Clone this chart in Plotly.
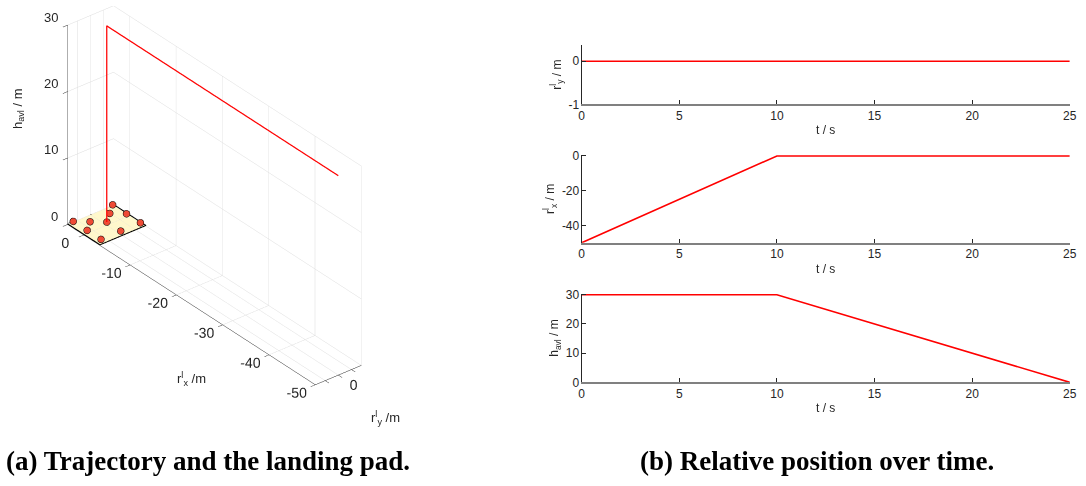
import plotly.graph_objects as go

# ---------------- data ----------------
t = [0, 10, 25]
r_x = [-50, 0, 0]
r_y = [0, 0, 0]
h_avl = [30, 30, 0]

pad_x = [-3.5, 3.5]
pad_y = [-3.5, 3.5]
pad_z = [[0, 0], [0, 0]]
pad_edge_x = [3.5, 3.5, -3.5, -3.5, 3.5]
pad_edge_y = [3.5, -3.5, -3.5, 3.5, 3.5]
pad_edge_z = [0.1, 0.1, 0.1, 0.1, 0.1]
light_x = [3, 1.5, 0, 1.5, 3, 0, -3, -3, -3, 0]
light_y = [3, 1.5, 0, -1.5, -3, -3, -3, 0, 3, 3]
light_z = [0.5] * 10

x3_ticks = [-50, -40, -30, -20, -10, 0]
x3_text = ["-50", "-40", "-30", "-20", "-10", "0"]
y3_ticks = [-2, 0, 2]
y3_text = ["", "0", ""]
z3_ticks = [0, 10, 20, 30]
z3_text = ["0", "10", "20", "30"]
t_ticks = [0, 5, 10, 15, 20, 25]
t_text = ["0", "5", "10", "15", "20", "25"]
ry_ticks, ry_text = [-1, 0], ["-1", "0"]
rx_ticks, rx_text = [-40, -20, 0], ["-40", "-20", "0"]
h_ticks, h_text = [0, 10, 20, 30], ["0", "10", "20", "30"]

X3_RANGE = [-50, 3.5]
Y3_RANGE = [-3.5, 3.5]
Z3_RANGE = [0, 30]

RED = "#FF0000"
AX = "#262626"
GRID = "#DCDCDC"
FONT = "Liberation Sans"

fig = go.Figure()

# ---------------- 3D trajectory ----------------
fig.add_trace(go.Surface(
    x=pad_x, y=pad_y, z=pad_z,
    colorscale=[[0, "#FFF8CC"], [1, "#FFF8CC"]], showscale=False,
    lighting=dict(ambient=1, diffuse=0, specular=0, fresnel=0, roughness=1),
    hoverinfo="skip", scene="scene"))
fig.add_trace(go.Scatter3d(
    x=pad_edge_x, y=pad_edge_y, z=pad_edge_z, mode="lines",
    line=dict(color="black", width=2), showlegend=False, scene="scene"))
fig.add_trace(go.Scatter3d(
    x=light_x, y=light_y, z=light_z, mode="markers",
    marker=dict(size=4, color="#EE4B35", line=dict(color="black", width=1)),
    showlegend=False, scene="scene"))
fig.add_trace(go.Scatter3d(
    x=r_x, y=r_y, z=h_avl, mode="lines",
    line=dict(color=RED, width=2.5), showlegend=False, scene="scene"))

# ---------------- 2D time series ----------------
fig.add_trace(go.Scatter(x=t, y=r_y, mode="lines", line=dict(color=RED, width=1.6),
                         xaxis="x", yaxis="y", showlegend=False))
fig.add_trace(go.Scatter(x=t, y=r_x, mode="lines", line=dict(color=RED, width=1.6),
                         xaxis="x2", yaxis="y2", showlegend=False))
fig.add_trace(go.Scatter(x=t, y=h_avl, mode="lines", line=dict(color=RED, width=1.6),
                         xaxis="x3", yaxis="y3", showlegend=False))

W, H = 1086, 486
xd = [584 / W, 1076.7 / W]


def xax(anchor):
    return dict(domain=xd, range=[0, 25], anchor=anchor, tickvals=t_ticks, ticktext=t_text,
                ticks="inside", ticklen=4, tickcolor=AX, showline=True,
                linecolor="#808080", linewidth=2, showgrid=False, zeroline=False,
                tickfont=dict(size=12, color=AX), ticklabelstandoff=-1,
                ticklabeloverflow="allow",
                title=dict(text="t / s", standoff=4, font=dict(size=12, color=AX)))


def yax(anchor, dom, rng, tv, tt, title):
    return dict(domain=dom, range=rng, anchor=anchor, tickvals=tv, ticktext=tt,
                ticks="inside", ticklen=4, tickcolor=AX, showline=True,
                linecolor=AX, linewidth=1, showgrid=False, zeroline=False,
                tickfont=dict(size=12, color=AX), ticklabelstandoff=-1,
                title=dict(text=title, standoff=4, font=dict(size=12, color=AX)))


axis3d = dict(showbackground=False, showgrid=True, gridcolor=GRID, gridwidth=1,
              showline=True, linecolor=AX, linewidth=1, ticks="outside", ticklen=6,
              tickcolor=AX, zeroline=False, showspikes=False, tickangle=0,
              tickfont=dict(size=13, color=AX, family=FONT), title=dict(text=""))

zoom = 1.95
eye_dir = (-0.664, 0.536, 0.5225)
# camera screen-up and screen-right directions, used to pan the view
up_dir = (0.4066, -0.328, 0.853)
right_dir = (-0.628, -0.778, 0.0)
pan_up = -18.2 / 224.0
pan_right = 0.6 / 224.0
cen = [pan_up * u + pan_right * r for u, r in zip(up_dir, right_dir)]

# z tick labels placed at the z-axis edge (x max, y max) of the 3D box
z_labels = [dict(x=X3_RANGE[1], y=Y3_RANGE[1], z=v, text=s, showarrow=False,
                 xanchor="right", yanchor="middle", xshift=-8, yshift=8,
                 font=dict(size=13, color=AX, family=FONT))
            for v, s in zip(z3_ticks, z3_text)]


def ann(text, x, y, size=13, angle=0, family=FONT, color=AX):
    return dict(text=text, x=x / W, y=1 - y / H, xref="paper", yref="paper",
                xanchor="center", yanchor="middle", showarrow=False, textangle=angle,
                font=dict(size=size, color=color, family=family))


fig.update_layout(
    width=W, height=H, margin=dict(l=0, r=0, t=0, b=0),
    paper_bgcolor="white", plot_bgcolor="white",
    font=dict(family=FONT, color=AX, size=12),
    showlegend=False,
    xaxis=xax("y"),
    yaxis=yax("x", [1 - 101 / H, 1 - 40 / H], [-1, 0.377], ry_ticks, ry_text,
              "r<sup>l</sup><sub>y</sub> / m"),
    xaxis2=xax("y2"),
    yaxis2=yax("x2", [1 - 243.3 / H, 1 - 153 / H], [-50, 0.6], rx_ticks, rx_text,
               "r<sup>l</sup><sub>x</sub> / m"),
    xaxis3=xax("y3"),
    yaxis3=yax("x3", [1 - 386.7 / H, 1 - 295.6 / H], [0, 30.35], h_ticks, h_text,
               "h<sub>avl</sub> / m"),
    scene=dict(
        domain=dict(x=[0, 0.394], y=[0.13, 1.0]),
        xaxis=dict(axis3d, range=X3_RANGE, tickvals=x3_ticks, ticktext=x3_text),
        yaxis=dict(axis3d, range=Y3_RANGE, tickvals=y3_ticks, ticktext=y3_text),
        zaxis=dict(axis3d, range=Z3_RANGE, tickvals=z3_ticks, ticktext=z3_text,
                   showticklabels=False),
        aspectmode="manual",
        aspectratio=dict(x=0.982 * zoom, y=0.147 * zoom, z=0.582 * zoom),
        camera=dict(eye=dict(x=eye_dir[0] + cen[0], y=eye_dir[1] + cen[1],
                             z=eye_dir[2] + cen[2]),
                    up=dict(x=0, y=0, z=1),
                    center=dict(x=cen[0], y=cen[1], z=cen[2]),
                    projection=dict(type="orthographic")),
        bgcolor="white",
        annotations=z_labels,
    ),
    annotations=[
        ann("h<sub>avl</sub> / m", 15, 105, angle=-90),
        ann("r<sup>l</sup><sub>x</sub> /m", 190, 383),
        ann("r<sup>l</sup><sub>y</sub> /m", 386, 423),
        ann("<b>(a) Trajectory and the landing pad.</b>", 207, 467, size=27,
            family="Liberation Serif", color="black"),
        ann("<b>(b) Relative position over time.</b>", 822, 467, size=27,
            family="Liberation Serif", color="black"),
    ],
)

fig.write_html("out.html", config={"displayModeBar": False},
               post_script="document.body.style.margin='0px';")
